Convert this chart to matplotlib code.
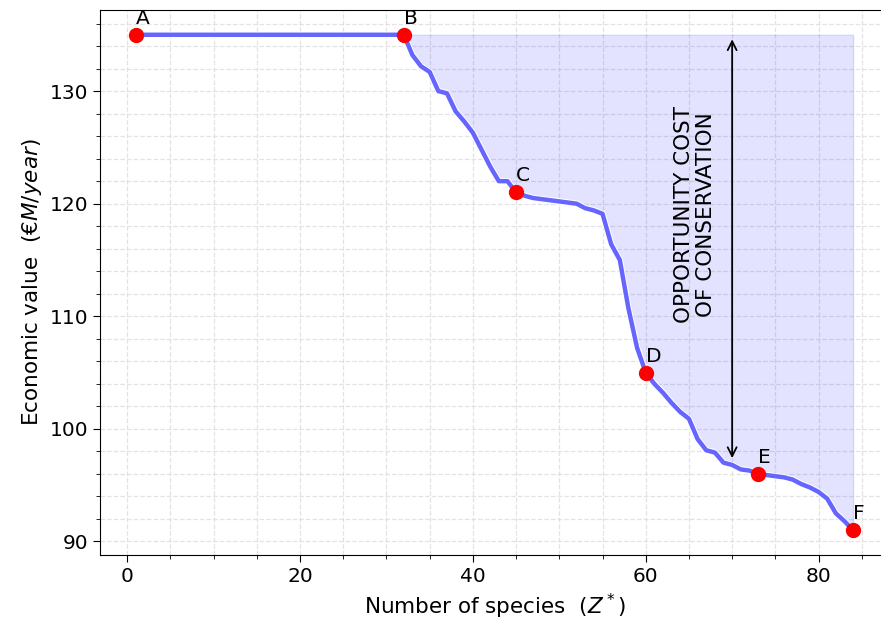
import numpy as np
import matplotlib
matplotlib.use('Agg')
import matplotlib.pyplot as plt
import matplotlib.patheffects as pe
from matplotlib.ticker import MultipleLocator

''' Trade-off curve between economic value and number of species kept. '''

species = [1, 32, 33, 34, 35, 36, 37, 38, 39, 40, 41, 42, 43, 44, 45,
           46, 47, 48, 49, 50, 51, 52, 53, 54, 55, 56, 57, 58, 59, 60,
           61, 62, 63, 64, 65, 66, 67, 68, 69, 70, 71, 72, 73,
           74, 75, 76, 77, 78, 79, 80, 81, 82, 83, 84]
value = [135.0, 135.0, 133.2, 132.2, 131.7, 130.0, 129.8, 128.2, 127.3, 126.3, 124.8, 123.3, 122.0, 122.0, 121.0,
         120.7, 120.5, 120.4, 120.3, 120.2, 120.1, 120.0, 119.6, 119.4, 119.1, 116.4, 115.0, 110.7, 107.2, 105.0,
         104.0, 103.2, 102.3, 101.5, 100.9, 99.1, 98.1, 97.9, 97.0, 96.8, 96.4, 96.3, 96.0,
         95.9, 95.8, 95.7, 95.5, 95.1, 94.8, 94.4, 93.8, 92.5, 91.8, 91.0]

point_labels = ['A', 'B', 'C', 'D', 'E', 'F']
point_x = [1, 32, 45, 60, 73, 84]
point_y = [135.0, 135.0, 121.0, 105.0, 96.0, 91.0]

arrow_x = 70
arrow_top = 134.6
arrow_bottom = 97.4

species = np.array(species)
value = np.array(value)

fig = plt.figure(figsize=(8.81, 6.26), dpi=100)
ax = fig.add_axes([100/881, 71/626, 789/881, 545/626])

# shaded area = opportunity cost
mask = species >= 32
ax.fill_between(species[mask], value[mask], value.max(), color='blue', alpha=0.11,
                edgecolor='blue', linewidth=1, zorder=1)

ax.plot(species, value, color='#6666ff', lw=3.2, solid_capstyle='round', zorder=3,
        path_effects=[pe.Stroke(linewidth=4.6, foreground='white'), pe.Normal()])
ax.plot(point_x, point_y, 'o', color='red', ms=10, zorder=4)
for lab, px, py in zip(point_labels, point_x, point_y):
    ax.annotate(lab, (px, py), xytext=(0, 5), textcoords='offset points',
                ha='left', va='bottom', fontsize=14.5, zorder=5)

ax.annotate('', xy=(arrow_x, arrow_top), xytext=(arrow_x, arrow_bottom),
            arrowprops=dict(arrowstyle='<->', color='black', lw=1.3, shrinkA=0, shrinkB=0,
                            mutation_scale=16))
ax.text(65.7, 119.0, 'OPPORTUNITY COST\nOF CONSERVATION', rotation=90,
        ha='center', va='center', fontsize=15.5, linespacing=1.1)

ax.set_xlim(-3.15, 88.15)
ax.set_ylim(88.8, 137.2)
ax.xaxis.set_major_locator(MultipleLocator(20))
ax.xaxis.set_minor_locator(MultipleLocator(5))
ax.yaxis.set_major_locator(MultipleLocator(10))
ax.yaxis.set_minor_locator(MultipleLocator(2))
ax.grid(which='both', ls='--', color='#dddddd', lw=0.9, alpha=0.8, zorder=0)
ax.set_axisbelow(True)
ax.tick_params(which='major', labelsize=14.5, length=5)
ax.tick_params(which='minor', length=3)

ax.set_xlabel(r'Number of species  ($Z^*$)', fontsize=15.5)
ax.set_ylabel(r'Economic value  ($€M/year$)', fontsize=15.5)

plt.savefig('out.png', dpi=100)
